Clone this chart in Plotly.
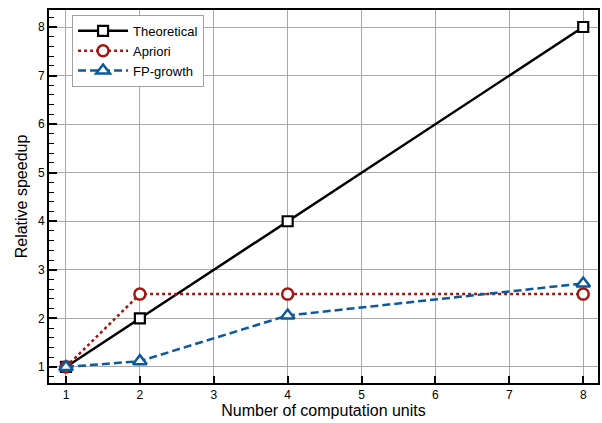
import plotly.graph_objects as go

units = [1, 2, 4, 8]
theoretical = [1, 2, 4, 8]
apriori = [1, 2.5, 2.5, 2.5]
fpgrowth = [1, 1.12, 2.06, 2.72]

x_ticks = [1, 2, 3, 4, 5, 6, 7, 8]
y_ticks = [1, 2, 3, 4, 5, 6, 7, 8]

RED = "#a3150f"
BLUE = "#0b5a9e"

fig = go.Figure()
fig.add_trace(go.Scatter(
    x=units, y=theoretical, name="Theoretical", mode="lines+markers",
    line=dict(color="black", width=2.5),
    marker=dict(symbol="square", size=10, color="white", line=dict(color="black", width=2.2))))
fig.add_trace(go.Scatter(
    x=units, y=apriori, name="Apriori", mode="lines+markers",
    line=dict(color=RED, width=2.5, dash="3px,3px"),
    marker=dict(symbol="circle", size=11, color="white", line=dict(color=RED, width=2.5))))
fig.add_trace(go.Scatter(
    x=units, y=fpgrowth, name="FP-growth", mode="lines+markers",
    line=dict(color=BLUE, width=2.5, dash="8px,4px"),
    marker=dict(symbol="triangle-up", size=12, color="white", line=dict(color=BLUE, width=2.5))))

fig.update_layout(
    width=602, height=423,
    margin=dict(l=49, r=4, t=10, b=40, autoexpand=False),
    paper_bgcolor="white", plot_bgcolor="white",
    font=dict(family="Liberation Sans, Arial, sans-serif", color="black", size=12),
    showlegend=True,
    legend=dict(x=0.042, y=0.987, xanchor="left", yanchor="top",
                bordercolor="#a0a0a0", borderwidth=1, bgcolor="white",
                font=dict(size=13), tracegroupgap=0, itemwidth=50),
)
fig.update_xaxes(
    range=[0.77, 8.2], tickmode="array", tickvals=x_ticks,
    showgrid=True, gridcolor="#a8a8a8", gridwidth=1,
    showline=True, linecolor="black", linewidth=2, mirror=True,
    ticks="inside", ticklen=7, tickwidth=2, tickcolor="black",
    zeroline=False, automargin=False,
    tickfont=dict(size=12),
    title=dict(text="Number of computation units", font=dict(size=16), standoff=2),
)
fig.update_yaxes(
    range=[0.67, 8.35], tickmode="array", tickvals=y_ticks,
    showgrid=True, gridcolor="#a8a8a8", gridwidth=1,
    showline=True, linecolor="black", linewidth=2, mirror=True,
    ticks="inside", ticklen=8, tickwidth=2, tickcolor="black",
    minor=dict(dtick=0.2, ticks="inside", ticklen=5, tickwidth=1, tickcolor="black", showgrid=False),
    zeroline=False, automargin=False,
    tickfont=dict(size=12),
    title=dict(text="Relative speedup", font=dict(size=16), standoff=6),
)

fig.write_html("out.html", config={"displayModeBar": False},
               post_script="document.body.style.margin='0';")
